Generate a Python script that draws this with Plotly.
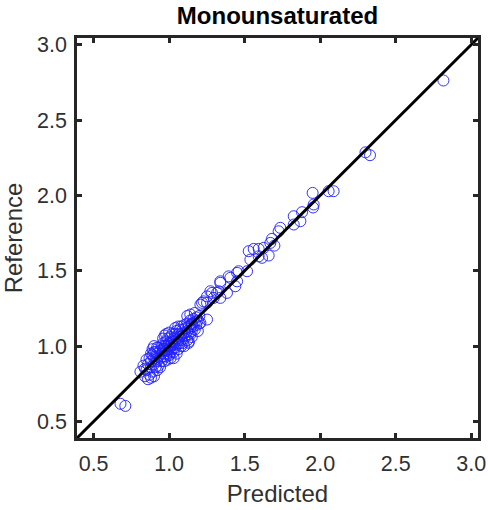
import plotly.graph_objects as go

# Predicted (x) and Reference (y) values
predicted = [
    0.678, 0.71,
    0.81, 0.84, 0.86, 0.85, 0.87, 0.88, 0.83, 0.86, 0.87, 0.85, 0.88, 0.89, 0.90, 0.84,
    0.88, 0.89, 0.90, 0.90, 0.91, 0.91, 0.92, 0.92, 0.93, 0.93, 0.94, 0.94, 0.95, 0.95,
    0.89, 0.90, 0.91, 0.92, 0.93, 0.94, 0.95, 0.88, 0.90, 0.92,
    0.96, 0.96, 0.96, 0.97, 0.97, 0.97, 0.98, 0.98, 0.98, 0.99, 0.99, 0.99, 1.00, 1.00,
    1.00, 1.01, 1.01, 1.01, 1.02, 1.02, 1.02, 0.96, 0.97, 0.98, 1.00, 0.99, 1.01, 0.97,
    0.98, 1.00,
    1.03, 1.03, 1.03, 1.04, 1.04, 1.04, 1.05, 1.05, 1.05, 1.06, 1.06, 1.06, 1.07, 1.07,
    1.07, 1.08, 1.08, 1.08, 1.09, 1.09, 1.10, 1.10, 1.10, 1.03, 1.05, 1.08, 1.04, 1.06,
    1.09, 1.10,
    1.11, 1.11, 1.12, 1.12, 1.12, 1.13, 1.13, 1.14, 1.14, 1.15, 1.15, 1.16, 1.16, 1.17,
    1.17, 1.18, 1.18, 1.19, 1.20, 1.20, 1.13, 1.15, 1.12, 1.14, 1.17, 1.19,
    1.129, 1.14, 1.152, 1.207, 1.251, 1.218, 1.251, 1.228, 1.207, 1.251, 1.295, 1.273,
    1.284, 1.317, 1.328, 1.339, 1.383, 1.339, 1.339, 1.405, 1.394, 1.45, 1.45, 1.438,
    1.46, 1.516,
    1.527, 1.56, 1.593, 1.626, 1.538, 1.593, 1.659, 1.615, 1.681, 1.67, 1.697,
    1.736, 1.725, 1.825, 1.88, 1.869, 1.825,
    1.95, 2.056, 2.089, 1.957, 1.953,
    2.30, 2.33, 2.816,
]
reference = [
    0.617, 0.603,
    0.83, 0.80, 0.78, 0.84, 0.81, 0.79, 0.87, 0.88, 0.92, 0.91, 0.86, 0.83, 0.80, 0.85,
    0.90, 0.94, 0.88, 0.92, 0.96, 0.86, 0.90, 0.95, 0.99, 0.87, 0.92, 0.97, 0.90, 1.00,
    0.98, 0.96, 0.91, 0.84, 0.93, 0.86, 0.95, 0.95, 1.00, 0.99,
    0.93, 0.98, 1.02, 0.95, 1.00, 0.90, 0.97, 1.03, 0.93, 1.00, 0.95, 1.05, 0.98, 1.02,
    0.94, 1.00, 1.06, 0.96, 1.03, 0.98, 1.08, 1.05, 1.07, 1.08, 1.09, 0.91, 0.92, 0.97,
    1.00, 1.00,
    1.01, 1.05, 0.96, 1.03, 1.08, 0.99, 1.05, 1.10, 1.01, 1.04, 1.08, 0.98, 1.06, 1.11,
    1.02, 1.08, 1.04, 1.13, 1.07, 1.11, 1.09, 1.05, 1.14, 0.92, 0.95, 1.00, 1.12, 1.13,
    1.02, 1.00,
    1.12, 1.07, 1.10, 1.15, 1.04, 1.13, 1.08, 1.12, 1.17, 1.10, 1.15, 1.13, 1.18, 1.16,
    1.11, 1.19, 1.14, 1.17, 1.20, 1.15, 1.03, 1.06, 1.20, 1.21, 1.22, 1.10,
    1.021, 1.076, 1.143, 1.154, 1.176, 1.287, 1.287, 1.297, 1.275, 1.33, 1.32, 1.364,
    1.353, 1.353, 1.364, 1.32, 1.353, 1.42, 1.43, 1.453, 1.463, 1.486, 1.43, 1.397,
    1.497, 1.497,
    1.63, 1.645, 1.645, 1.652, 1.574, 1.596, 1.601, 1.586, 1.712, 1.685, 1.667,
    1.785, 1.762, 1.862, 1.889, 1.829, 1.807,
    2.017, 2.028, 2.028, 1.94, 1.92,
    2.286, 2.267, 2.763,
]

# 1:1 reference line endpoints (data units)
identity = [0.0, 4.0]

tick_vals = [0.5, 1.0, 1.5, 2.0, 2.5, 3.0]
axis_range = [0.39, 3.045]

FONT = "Liberation Sans, Arial, sans-serif"

fig = go.Figure()
fig.add_trace(go.Scatter(
    x=predicted, y=reference, mode="markers",
    marker=dict(symbol="circle-open", size=11, color="rgb(30,30,255)",
                line=dict(width=0.9, color="rgb(30,30,255)")),
    showlegend=False, hoverinfo="skip",
))
fig.add_trace(go.Scatter(
    x=identity, y=identity, mode="lines",
    line=dict(color="black", width=3),
    showlegend=False, hoverinfo="skip",
))

axis_common = dict(
    range=axis_range, tickvals=tick_vals, tickformat=".1f",
    showgrid=False, zeroline=False, automargin=False,
    showline=True, linecolor="#262626", linewidth=2.5, mirror="allticks",
    ticks="inside", ticklen=5, tickwidth=2.5, tickcolor="#262626",
    tickfont=dict(family=FONT, size=21.5, color="#303030"),
)

fig.update_layout(
    width=488, height=510,
    margin=dict(l=77, r=10, t=38, b=72),
    paper_bgcolor="white", plot_bgcolor="white",
    title=dict(text="<b>Monounsaturated</b>", x=0.5686, xanchor="center",
               y=0.970, yanchor="middle",
               font=dict(family=FONT, size=24, color="black")),
    xaxis=dict(title=dict(text="Predicted", standoff=11,
                          font=dict(family=FONT, size=24, color="#303030")),
               ticklabelstandoff=4, **axis_common),
    yaxis=dict(title=dict(text="Reference", standoff=8,
                          font=dict(family=FONT, size=24, color="#303030")),
               ticklabelstandoff=3, **axis_common),
)

fig.write_html("out.html")
